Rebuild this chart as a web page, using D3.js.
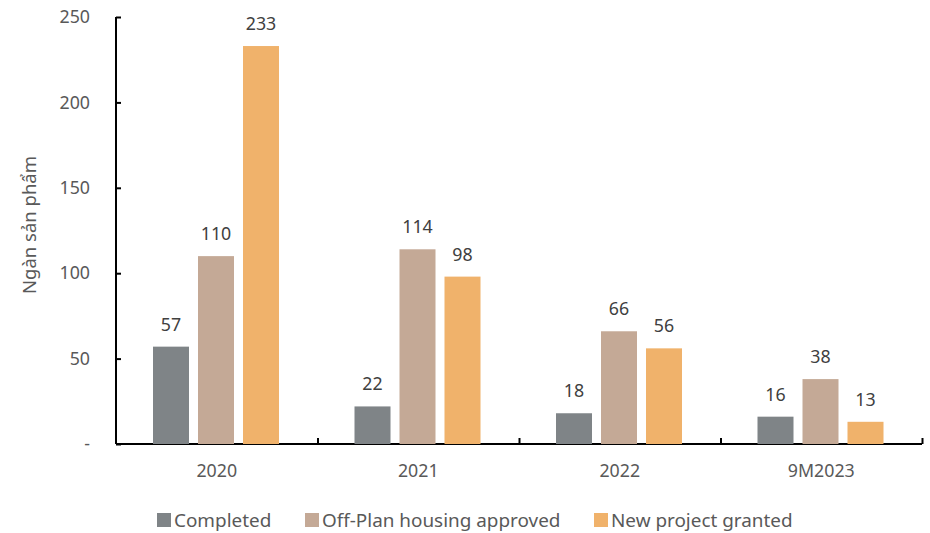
<!DOCTYPE html>
<html><head><meta charset="utf-8">
<script src="https://cdn.jsdelivr.net/npm/d3@7"></script>
<style>body{margin:0;background:#fff}svg{display:block;font-family:"Noto Sans","Open Sans",sans-serif}</style>
</head><body><svg id="c" width="930" height="533"></svg>
<script>
const categories = ["2020","2021","2022","9M2023"];
const seriesNames = ["Completed","Off-Plan housing approved","New project granted"];
const completed = [57,22,18,16];
const offPlan = [110,114,66,38];
const newProject = [233,98,56,13];
const yTicks = [0,50,100,150,200,250];
const colors = ["#7f8487","#c4a996","#f0b26b"];
const series = [completed, offPlan, newProject];

const svg = d3.select("#c");
const x0 = d3.scaleBand().domain(categories).range([116,922]).padding(0);
const x1 = d3.scaleBand().domain(seriesNames).range([37,163]).paddingInner(0.2);
const y = d3.scaleLinear().domain([0,250]).range([444,17]);

// y axis
const ya = svg.append("g").attr("transform","translate(116,0)")
  .call(d3.axisRight(y).tickValues(yTicks).tickSize(5).tickFormat(""));
ya.select(".domain").attr("stroke","#000").attr("stroke-width",2).attr("d","M0,17V444");
ya.selectAll(".tick line").attr("stroke","#000").attr("stroke-width",2);
svg.append("g").selectAll("text").data(yTicks).join("text")
  .attr("x",90).attr("y",d=>y(d)).attr("dy","0.35em").attr("text-anchor","end")
  .attr("font-size",17.8).attr("fill","#595959").text(d=>d===0?"-":d);

// x axis
const xa = svg.append("g").attr("transform","translate(0,444)")
  .call(d3.axisTop(d3.scaleLinear().domain([0,4]).range([116,922])).tickValues([1,2,3,4]).tickSize(6).tickFormat(""));
xa.select(".domain").attr("stroke","#000").attr("stroke-width",2).attr("d","M116,0H922");
xa.selectAll(".tick line").attr("stroke","#000").attr("stroke-width",2);
svg.append("g").selectAll("text").data(categories).join("text")
  .attr("x",d=>x0(d)+x0.bandwidth()/2).attr("y",477).attr("text-anchor","middle")
  .attr("font-size",17.8).attr("fill","#595959").text(d=>d);

// bars
const g = svg.append("g");
categories.forEach((c,i)=>{
  series.forEach((s,j)=>{
    const bx = x0(c)+x1(seriesNames[j]);
    g.append("rect").attr("x",bx).attr("y",y(s[i])).attr("width",x1.bandwidth())
      .attr("height",444-y(s[i])).attr("fill",colors[j]);
    g.append("text").attr("x",bx+x1.bandwidth()/2).attr("y",y(s[i])-16)
      .attr("text-anchor","middle").attr("font-size",17.8).attr("fill","#404040").text(s[i]);
  });
});

// y title
svg.append("text").attr("transform","translate(36,225) rotate(-90)").attr("text-anchor","middle")
  .attr("font-size",18.5).attr("fill","#595959").text("Ngàn sản phẩm");

// legend
const legX = [157,305,594];
const lg = svg.append("g");
seriesNames.forEach((n,j)=>{
  lg.append("rect").attr("x",legX[j]).attr("y",513).attr("width",14).attr("height",14).attr("fill",colors[j]);
  lg.append("text").attr("x",legX[j]+17).attr("y",527).attr("font-size",18.9).attr("fill","#595959").text(n);
});
</script></body></html>
